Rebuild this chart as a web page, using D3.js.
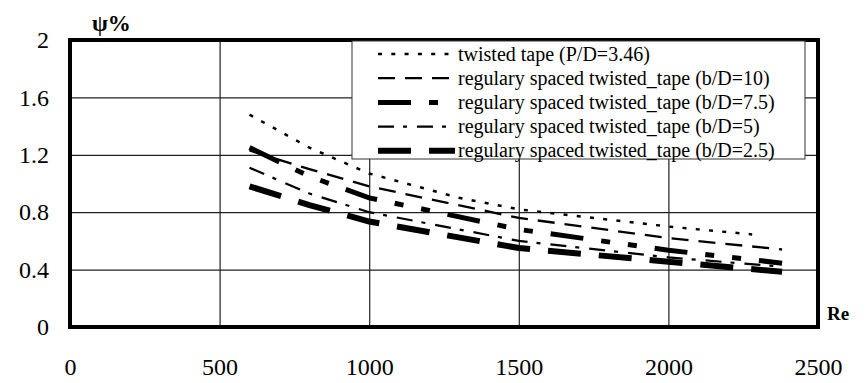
<!DOCTYPE html>
<html>
<head>
<meta charset="utf-8">
<script src="https://cdn.jsdelivr.net/npm/d3@7"></script>
<style>
  body { margin: 0; background: #fff; }
  svg text { font-family: "Liberation Serif", "Times New Roman", serif; fill: #000; }
</style>
</head>
<body>
<svg id="chart" width="865" height="383"></svg>
<script>
// data
var reTwisted = [600, 800, 1000, 1300, 1500, 2000, 2280],
    psiTwisted = [1.48, 1.25, 1.07, 0.90, 0.82, 0.70, 0.645],
    reSpaced = [600, 800, 1000, 1500, 2000, 2380],
    psiB10 = [1.23, 1.10, 0.98, 0.76, 0.62, 0.54],
    psiB75 = [1.25, 1.05, 0.90, 0.68, 0.535, 0.445],
    psiB5 = [1.11, 0.93, 0.80, 0.60, 0.485, 0.42],
    psiB25 = [0.98, 0.85, 0.735, 0.55, 0.455, 0.385],
    xTicks = [0, 500, 1000, 1500, 2000, 2500],
    yTicks = [0, 0.4, 0.8, 1.2, 1.6, 2],
    seriesNames = [
      "twisted tape (P/D=3.46)",
      "regulary spaced twisted_tape (b/D=10)",
      "regulary spaced twisted_tape (b/D=7.5)",
      "regulary spaced twisted_tape (b/D=5)",
      "regulary spaced twisted_tape (b/D=2.5)"
    ];

var
  margin = {left: 70, top: 40},
  width = 748,
  height = 287,

  styles = [
    {w: 2.5, dash: "4,9.3"},
    {w: 2.3, dash: "17,10"},
    {w: 5, dash: "33,18,9,18,9,18"},
    {w: 2.2, dash: "16,9,4,10"},
    {w: 6, dash: "33,18"}
  ],

  series = [
    {re: reTwisted, psi: psiTwisted},
    {re: reSpaced, psi: psiB10},
    {re: reSpaced, psi: psiB75},
    {re: reSpaced, psi: psiB5},
    {re: reSpaced, psi: psiB25}
  ];

var svg = d3.select("#chart");

var x = d3.scaleLinear().domain([0, 2500]).range([0, width]),
    y = d3.scaleLinear().domain([0, 2]).range([height, 0]);

var g = svg.append("g")
    .attr("transform", "translate(" + margin.left + "," + margin.top + ")");

// grid + tick labels
var yAxis = g.append("g")
    .call(d3.axisLeft(y).tickValues(yTicks).tickSize(-width).tickPadding(21)
      .tickFormat(function(d){ return d; }));
var xAxis = g.append("g")
    .attr("transform", "translate(0," + height + ")")
    .call(d3.axisBottom(x).tickValues(xTicks).tickSize(-height).tickPadding(31)
      .tickFormat(function(d){ return d; }));

[xAxis, yAxis].forEach(function(a){
  a.attr("font-family", null).attr("font-size", null);
  a.select(".domain").remove();
  a.selectAll("line").attr("stroke", "#222").attr("stroke-width", 1.2);
  a.selectAll("text")
    .attr("fill", "#000")
    .style("font-size", "24px");
});

// series lines
var line = d3.line()
    .x(function(d){ return x(d[0]); })
    .y(function(d){ return y(d[1]); });

series.forEach(function(s, i){
  g.append("path")
    .datum(d3.zip(s.re, s.psi))
    .attr("d", line)
    .attr("fill", "none")
    .attr("stroke", "#000")
    .attr("stroke-width", styles[i].w)
    .attr("stroke-dasharray", styles[i].dash);
});

// frame
g.append("rect")
  .attr("width", width)
  .attr("height", height)
  .attr("fill", "none")
  .attr("stroke", "#000")
  .attr("stroke-width", 4);

// legend
var leg = svg.append("g").attr("transform", "translate(352,41)");
leg.append("rect")
  .attr("width", 453)
  .attr("height", 118)
  .attr("fill", "#fff")
  .attr("stroke", "#333")
  .attr("stroke-width", 1);

seriesNames.forEach(function(name, i){
  var ly = 13 + i * 24.2;
  leg.append("line")
    .attr("x1", 26).attr("x2", 103)
    .attr("y1", ly).attr("y2", ly)
    .attr("stroke", "#000")
    .attr("stroke-width", styles[i].w)
    .attr("stroke-dasharray", styles[i].dash);
  leg.append("text")
    .attr("x", 106)
    .attr("y", ly)
    .attr("dy", "0.33em")
    .style("font-size", "20px")
    .text(name);
});

// axis titles
svg.append("text")
  .attr("x", 92).attr("y", 31)
  .style("font-weight", "bold")
  .style("font-size", "23px")
  .text("ψ%");

svg.append("text")
  .attr("x", 827).attr("y", 320)
  .style("font-weight", "bold")
  .style("font-size", "19px")
  .text("Re");
</script>
</body>
</html>
